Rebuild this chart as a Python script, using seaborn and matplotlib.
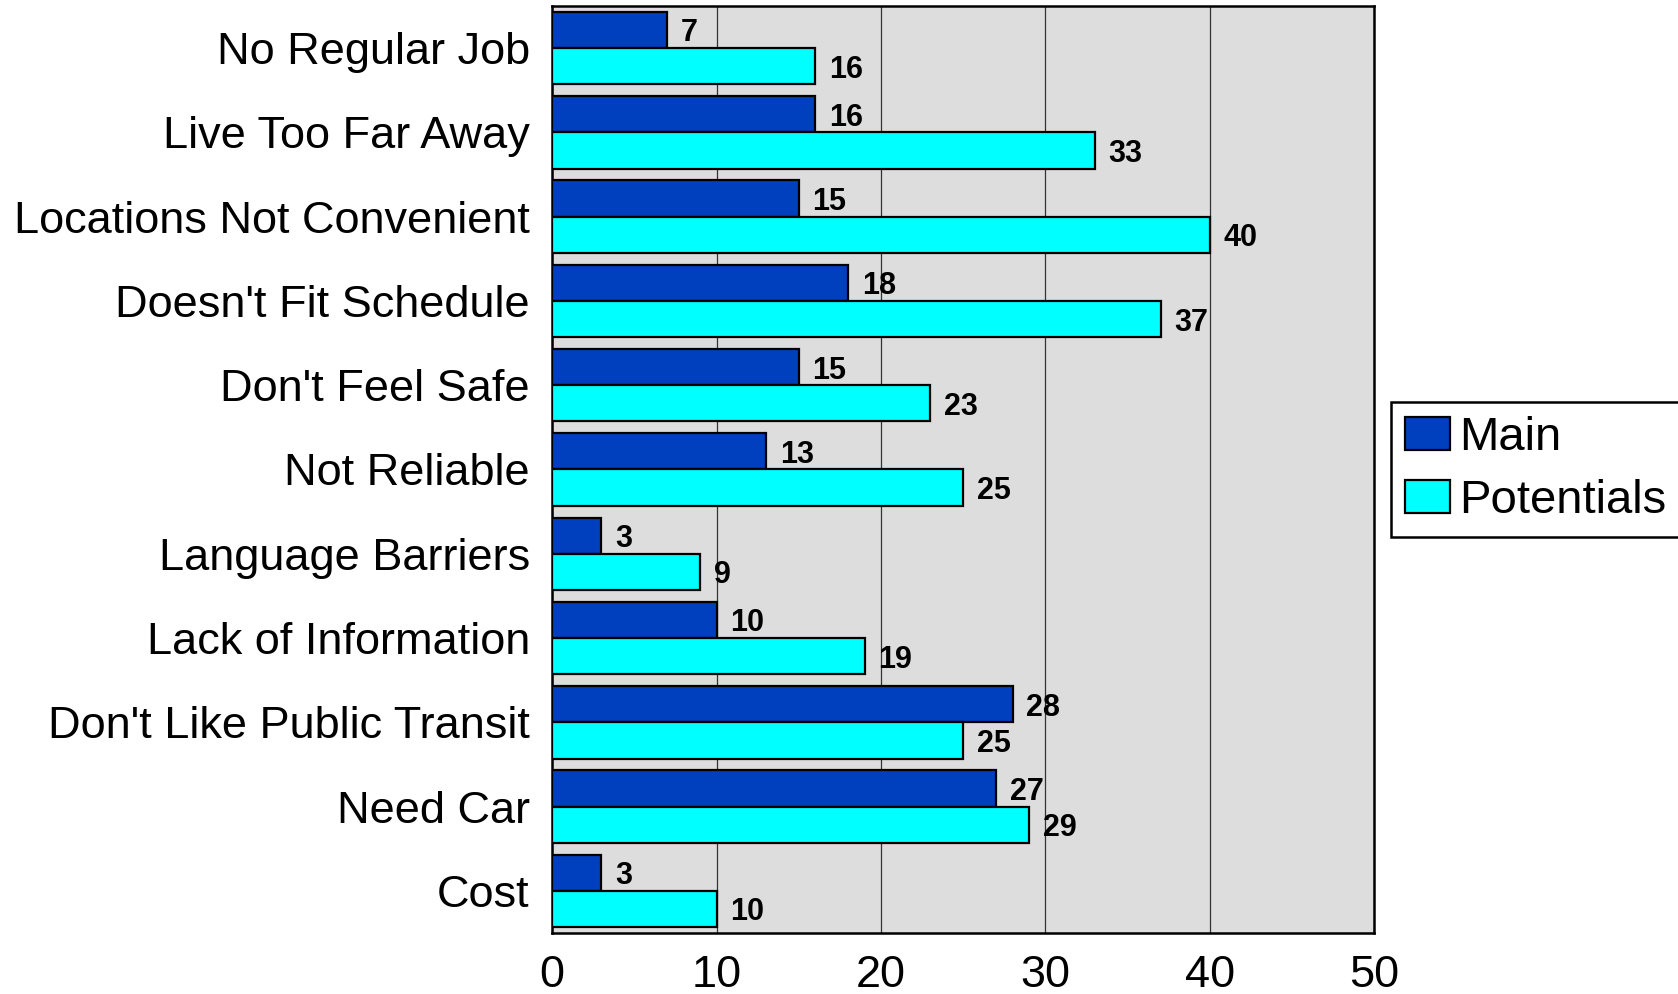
import matplotlib
matplotlib.use('Agg')
import matplotlib.pyplot as plt
import seaborn as sns
import pandas as pd

categories = ['No Regular Job', 'Live Too Far Away', 'Locations Not Convenient',
              "Doesn't Fit Schedule", "Don't Feel Safe", 'Not Reliable',
              'Language Barriers', 'Lack of Information', "Don't Like Public Transit",
              'Need Car', 'Cost']
main = [7, 16, 15, 18, 15, 13, 3, 10, 28, 27, 3]
potentials = [16, 33, 40, 37, 23, 25, 9, 19, 25, 29, 10]
x_ticks = [0, 10, 20, 30, 40, 50]

df = pd.DataFrame({'category': categories * 2,
                   'value': main + potentials,
                   'group': ['Main'] * len(main) + ['Potentials'] * len(potentials)})

plt.rcParams['font.family'] = ['Liberation Sans', 'DejaVu Sans']

fig = plt.figure(figsize=(16.78, 9.94), dpi=100)
ax = fig.add_axes([0.329, 0.0614, 0.490, 0.9326])

sns.barplot(data=df, y='category', x='value', hue='group', order=categories,
            palette={'Main': '#0040BF', 'Potentials': '#00FFFF'},
            width=0.86, edgecolor='black', linewidth=1.6, saturation=1,
            ax=ax, zorder=3)

# value labels, sitting a touch below the bar centre like the original
for cont in ax.containers:
    for t in ax.bar_label(cont, padding=10, fontsize=22, fontweight='bold'):
        t.set_va('center_baseline')

ax.set_facecolor('#DDDDDD')
ax.set_xlim(0, 50)
ax.set_xticks(x_ticks)
ax.set_xticklabels([str(t) for t in x_ticks])
ax.grid(axis='x', color='#333333', linewidth=0.9, zorder=0)
ax.grid(axis='y', visible=False)
ax.set_axisbelow(True)
ax.tick_params(axis='both', length=0, labelsize=32.5)
ax.tick_params(axis='x', pad=16)
ax.tick_params(axis='y', pad=16)
for lbl in ax.get_yticklabels():
    lbl.set_va('center_baseline')
ax.set_xlabel('')
ax.set_ylabel('')
for s in ax.spines.values():
    s.set_linewidth(1.8)
    s.set_color('black')

leg = ax.legend(loc='center left', bbox_to_anchor=(1.02, 0.5), fontsize=34,
                frameon=True, fancybox=False, edgecolor='black', framealpha=1,
                handlelength=0.95, handleheight=0.7, handletextpad=0.2,
                borderpad=0.3, labelspacing=0.4, borderaxespad=0)
leg.get_frame().set_linewidth(1.8)

fig.savefig('out.png', dpi=100)
